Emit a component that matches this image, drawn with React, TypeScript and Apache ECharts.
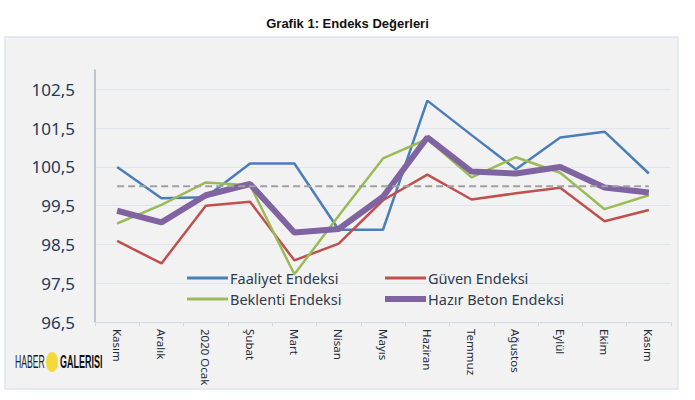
import React, { useEffect, useRef } from "react";
import * as echarts from "echarts";

const categories = ["Kasım", "Aralık", "2020 Ocak", "Şubat", "Mart", "Nisan", "Mayıs", "Haziran", "Temmuz", "Ağustos", "Eylül", "Ekim", "Kasım"];
const faaliyet = [100.5, 99.69, 99.72, 100.59, 100.59, 98.88, 98.88, 102.21, 101.32, 100.44, 101.26, 101.41, 100.33];
const guven = [98.59, 98.01, 99.5, 99.6, 98.09, 98.52, 99.64, 100.3, 99.66, 99.82, 99.96, 99.1, 99.39];
const beklenti = [99.04, 99.52, 100.1, 100.03, 97.73, 99.24, 100.72, 101.22, 100.23, 100.75, 100.35, 99.41, 99.77];
const hazirBeton = [99.37, 99.07, 99.77, 100.06, 98.81, 98.9, 99.73, 101.26, 100.38, 100.33, 100.5, 99.97, 99.84];
const esik = [100, 100, 100, 100, 100, 100, 100, 100, 100, 100, 100, 100, 100];

export default function App() {
  const ref = useRef<HTMLDivElement>(null);
  useEffect(() => {
    document.body.style.margin = "0";
    const chart = echarts.init(ref.current!, null, { renderer: "svg" });
    const font = "'Noto Sans', 'Open Sans', sans-serif";
    const line = (name: string, data: number[], color: string, width: number) => ({
      name,
      type: "line",
      data,
      symbol: "none",
      color,
      lineStyle: { color, width },
    });
    const leg = (name: string, left: number, cy: number, h: number) => ({
      data: [name],
      left,
      top: cy - 9,
      icon: "rect",
      itemWidth: 41,
      itemHeight: h,
      padding: 0,
      height: 18,
      textStyle: { fontFamily: font, fontSize: 14.5, color: "#2e3b4c", lineHeight: 18, padding: [0, 0, 0, -3] },
    });
    chart.setOption({
      animation: false,
      backgroundColor: "#ffffff",
      title: {
        text: "Grafik 1: Endeks Değerleri",
        left: "center",
        top: 12,
        textStyle: { fontFamily: "'Liberation Sans', Arial, sans-serif", fontSize: 13, fontWeight: "bold", color: "#111111" },
      },
      graphic: [
        {
          type: "rect",
          z: -10,
          silent: true,
          shape: { x: 5, y: 37, width: 673, height: 352 },
          style: { fill: "#f2f2f2", stroke: "#dce5ee", lineWidth: 1.5 },
        },
        {
          type: "ellipse",
          shape: { cx: 52, cy: 362, rx: 6, ry: 10 },
          style: { fill: "#f2da3a" },
        },
        {
          type: "text",
          x: 15,
          y: 362,
          scaleX: 0.48,
          style: { text: "HABER", fontFamily: "'Liberation Sans', sans-serif", fontSize: 18, fill: "#222222", verticalAlign: "middle" },
        },
        {
          type: "text",
          x: 60,
          y: 362,
          scaleX: 0.5,
          style: { text: "GALERISI", fontFamily: "'Liberation Sans', sans-serif", fontSize: 18, fontWeight: "bold", fill: "#111111", verticalAlign: "middle" },
        },
      ],
      legend: [
        leg("Faaliyet Endeksi", 187, 278, 3),
        leg("Beklenti Endeksi", 187, 299, 3),
        leg("Güven Endeksi", 385, 278, 3),
        leg("Hazır Beton Endeksi", 385, 299, 6),
      ],
      grid: { left: 95, right: 24, top: 70, bottom: 78 },
      xAxis: {
        type: "category",
        data: categories,
        boundaryGap: true,
        axisLine: { show: true, lineStyle: { color: "#d3d9df", width: 1 } },
        axisTick: { show: true, length: 4, lineStyle: { color: "#d3d9df" } },
        axisLabel: { rotate: -90, fontFamily: font, fontSize: 11.5, color: "#1f2d3d", margin: 7, interval: 0 },
      },
      yAxis: {
        type: "value",
        min: 96.5,
        max: 103,
        interval: 1,
        axisLine: { show: true, lineStyle: { color: "#a9b9c9", width: 1.5 } },
        axisTick: { show: false },
        axisLabel: {
          showMaxLabel: false,
          fontFamily: font,
          fontSize: 17,
          color: "#1f3a5c",
          margin: 20,
          formatter: (v: number) => v.toFixed(1).replace(".", ","),
        },
        splitLine: { show: true, showMaxLine: false, lineStyle: { color: "#dfe5eb", width: 1 } },
      },
      series: [
        line("Faaliyet Endeksi", faaliyet, "#4a7ebb", 2.5),
        line("Güven Endeksi", guven, "#c0504d", 2.5),
        line("Beklenti Endeksi", beklenti, "#9bbb59", 2.5),
        line("Hazır Beton Endeksi", hazirBeton, "#8064a2", 6),
        {
          name: "Eşik",
          type: "line",
          data: esik,
          symbol: "none",
          color: "#a0a0a0",
          lineStyle: { color: "#a0a0a0", width: 2, type: [7, 4] },
        },
      ],
    });
    return () => chart.dispose();
  }, []);
  return <div ref={ref} style={{ width: 695, height: 400 }} />;
}
